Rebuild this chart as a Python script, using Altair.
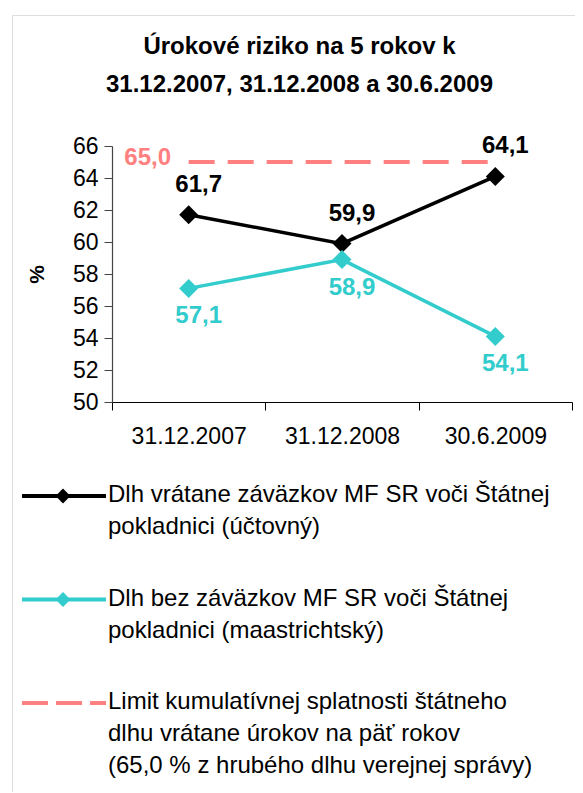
import altair as alt
import pandas as pd

FONT = "Liberation Sans"

# ---- data ----
categories = ["31.12.2007", "31.12.2008", "30.6.2009"]
dlh_uctovny = [61.7, 59.9, 64.1]
dlh_maastricht = [57.1, 58.9, 54.1]
limit_values = [65.0, 65.0, 65.0]

series_names = [
    "Dlh vrátane záväzkov MF SR voči Štátnej pokladnici (účtovný)",
    "Dlh bez záväzkov MF SR voči Štátnej pokladnici (maastrichtský)",
    "Limit kumulatívnej splatnosti štátneho dlhu vrátane úrokov na päť rokov (65,0 % z hrubého dlhu verejnej správy)",
]
legend_texts = [
    "Dlh vrátane záväzkov MF SR voči Štátnej\npokladnici (účtovný)",
    "Dlh bez záväzkov MF SR voči Štátnej\npokladnici (maastrichtský)",
    "Limit kumulatívnej splatnosti štátneho\ndlhu vrátane úrokov na päť rokov\n(65,0 % z hrubého dlhu verejnej správy)",
]
colors = ["#000000", "#33CCCC", "#FF8080"]
y_ticks = [50, 52, 54, 56, 58, 60, 62, 64, 66]
title_lines = ["Úrokové riziko na 5 rokov k", "31.12.2007, 31.12.2008 a 30.6.2009"]

rows = []
for name, vals in zip(series_names, [dlh_uctovny, dlh_maastricht, limit_values]):
    for c, v in zip(categories, vals):
        rows.append({"cat": c, "value": v, "series": name,
                     "label": f"{v:.1f}".replace(".", ",")})
df = pd.DataFrame(rows)
legend_df = pd.DataFrame({"series": series_names, "text": legend_texts})

# ---- scales ----
xscale = alt.Scale(type="band", domain=categories, range=[100, 560],
                   paddingInner=0, paddingOuter=0)
yscale = alt.Scale(domain=[50, 66], range=[387, 131], nice=False, zero=False)
cscale = alt.Scale(domain=series_names, range=colors)

x_enc = alt.X("cat:N", scale=xscale, bandPosition=0.5, title=None,
              axis=alt.Axis(orient="bottom", offset=-390, tickBand="extent",
                            labelAngle=0, labelFontSize=23, labelColor="black",
                            labelPadding=15, tickSize=8, tickColor="black",
                            domainColor="black", domainWidth=1.2, grid=False,
                            labelFont=FONT))
y_enc = alt.Y("value:Q", scale=yscale, title="%",
              axis=alt.Axis(orient="left", offset=-100, values=y_ticks,
                            labelFontSize=23, labelColor="black", labelPadding=6,
                            tickSize=8, tickColor="#444", domainColor="#444",
                            domainWidth=1.2, grid=False, labelFont=FONT,
                            titleFont=FONT, titleFontSize=21, titleFontWeight="bold",
                            titleColor="black", titlePadding=25))
color_enc = alt.Color("series:N", scale=cscale, legend=None)

base = alt.Chart(df)

limit_line = base.transform_filter(alt.datum.series == series_names[2]).mark_line(
    strokeWidth=4, strokeDash=[26, 13]).encode(x=x_enc, y=y_enc, color=color_enc)

main_lines = base.transform_filter(alt.datum.series != series_names[2]).mark_line(
    strokeWidth=3.5).encode(x=x_enc, y=y_enc, color=color_enc, detail="series:N")

points = base.transform_filter(alt.datum.series != series_names[2]).mark_point(
    shape="diamond", filled=True, size=360, opacity=1).encode(
    x=x_enc, y=y_enc, color=color_enc)

lab_black = base.transform_filter(alt.datum.series == series_names[0]).mark_text(
    dx=10, dy=-30, fontSize=24, fontWeight="bold", font=FONT).encode(
    x=x_enc, y=y_enc, text="label:N", color=color_enc)

lab_cyan = base.transform_filter(alt.datum.series == series_names[1]).mark_text(
    dx=10, dy=28, fontSize=24, fontWeight="bold", font=FONT).encode(
    x=x_enc, y=y_enc, text="label:N", color=color_enc)

lab_limit = base.transform_filter(
    (alt.datum.series == series_names[2]) & (alt.datum.cat == categories[0])
).mark_text(dx=-41, dy=-4, fontSize=24, fontWeight="bold", font=FONT).encode(
    x=x_enc, y=y_enc, text="label:N", color=color_enc)

plot = alt.layer(limit_line, main_lines, points, lab_black, lab_cyan, lab_limit)

# ---- manual legend ----
ly = alt.Y("series:N", scale=alt.Scale(type="point", domain=series_names,
                                       range=[481, 688], padding=0), axis=None)
lbase = alt.Chart(legend_df)
leg_rule = lbase.mark_rule(strokeWidth=4).encode(
    x=alt.value(10), x2=alt.value(94), y=ly, color=color_enc,
    strokeDash=alt.StrokeDash("series:N", scale=alt.Scale(
        domain=series_names, range=[[1, 0], [1, 0], [26, 8]]), legend=None))
leg_pts = lbase.transform_filter(alt.datum.series != series_names[2]).mark_point(
    shape="diamond", filled=True, size=220, opacity=1).encode(
    x=alt.value(51), y=ly, color=color_enc)
leg_txt = lbase.mark_text(align="left", baseline="top", dy=-13, lineBreak="\n",
                          lineHeight=32, fontSize=24, font=FONT, color="black").encode(
    x=alt.value(96), y=ly, text="text:N")
legend = alt.layer(leg_rule, leg_pts, leg_txt)

chart = alt.layer(plot, legend).resolve_scale(y="independent").properties(
    width=575, height=777,
    autosize=alt.AutoSizeParams(type="none"),
    padding={"left": 4, "top": 7, "right": -12, "bottom": 0},
    title=alt.TitleParams(text=title_lines, anchor="middle", offset=-82,
                          fontSize=24, fontWeight="bold", font=FONT,
                          lineHeight=38, color="black"),
).configure_view(stroke="black", strokeWidth=1.5, cornerRadius=24
).configure(font=FONT)

chart.save("out.html", embed_options={"renderer": "svg", "actions": False})
